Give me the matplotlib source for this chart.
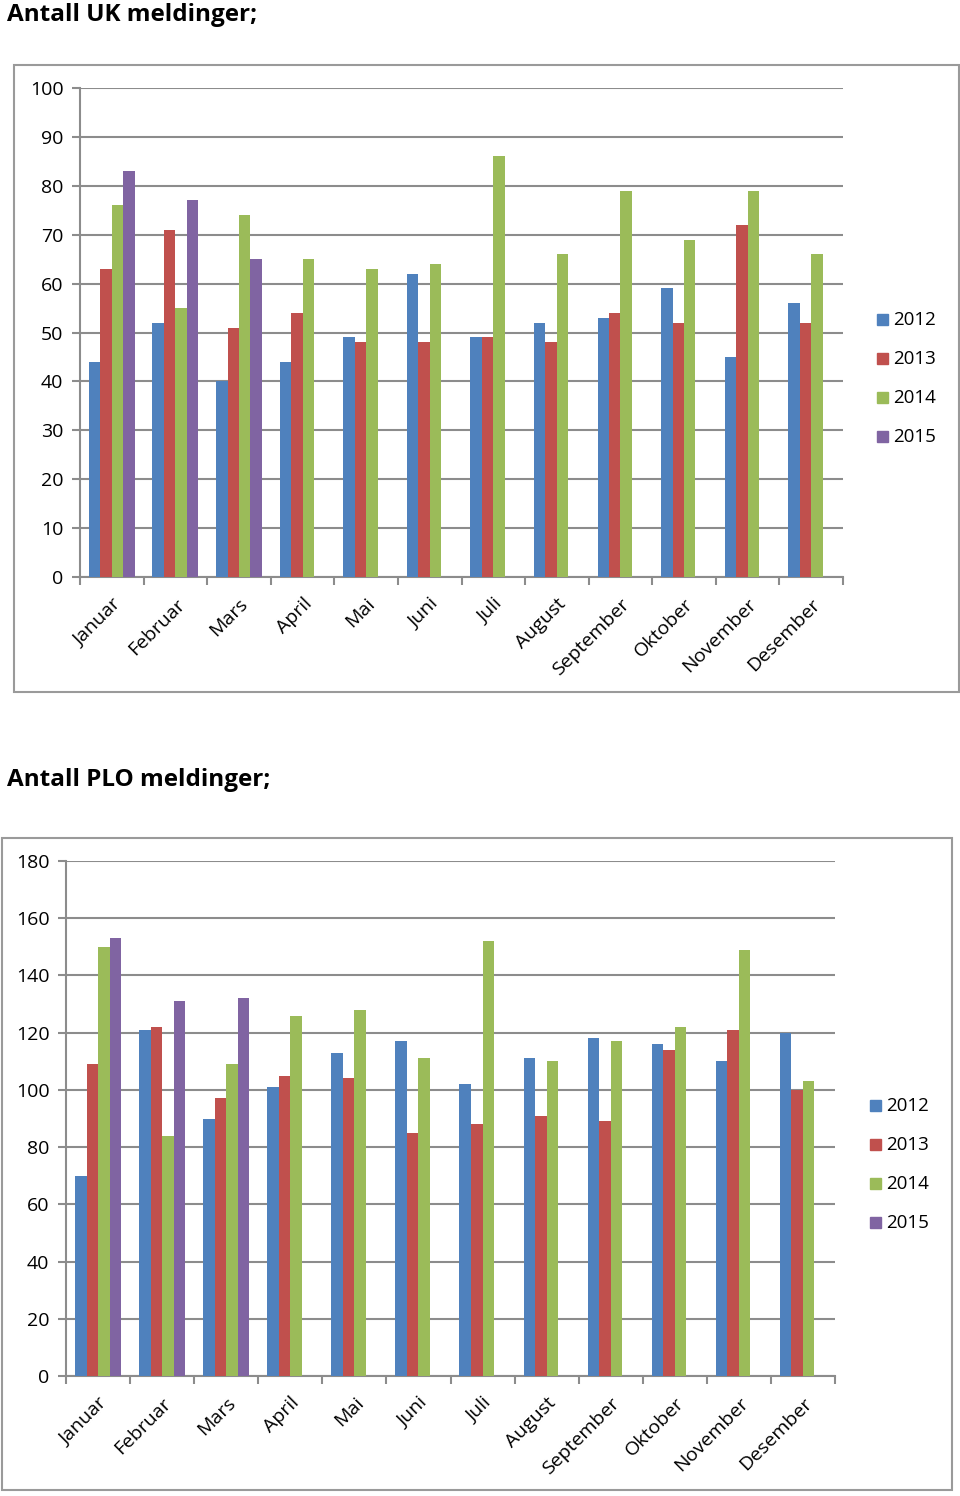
import matplotlib
matplotlib.use("Agg")
import matplotlib.pyplot as plt
from matplotlib.patches import Rectangle
import numpy as np

months = ["Januar", "Februar", "Mars", "April", "Mai", "Juni", "Juli",
          "August", "September", "Oktober", "November", "Desember"]
years = ["2012", "2013", "2014", "2015"]

uk_2012 = [44, 52, 40, 44, 49, 62, 49, 52, 53, 59, 45, 56]
uk_2013 = [63, 71, 51, 54, 48, 48, 49, 48, 54, 52, 72, 52]
uk_2014 = [76, 55, 74, 65, 63, 64, 86, 66, 79, 69, 79, 66]
uk_2015 = [83, 77, 65]

plo_2012 = [70, 121, 90, 101, 113, 117, 102, 111, 118, 116, 110, 120]
plo_2013 = [109, 122, 97, 105, 104, 85, 88, 91, 89, 114, 121, 100]
plo_2014 = [150, 84, 109, 126, 128, 111, 152, 110, 117, 122, 149, 103]
plo_2015 = [153, 131, 132]

uk_titles = "Antall UK meldinger;"
plo_titles = "Antall PLO meldinger;"

colors = ["#4F81BD", "#C0504D", "#9BBB59", "#8064A2"]
grid_c = "#8C8C8C"
FONT = "Open Sans"
plt.rcParams['font.family'] = [FONT, 'DejaVu Sans']

W, H = 960, 1496
fig = plt.figure(figsize=(W / 100, H / 100), dpi=100)


def fx(px):
    return px / W


def fy(py):
    return 1 - py / H


def draw(ax_box, frame_box, title, title_y, series, ymax, ystep, legend_x, legend_y0):
    x0, y0, x1, y1 = frame_box
    fig.patches.append(Rectangle((fx(x0), fy(y1)), fx(x1 - x0), (y1 - y0) / H,
                                 transform=fig.transFigure, fill=False,
                                 edgecolor="#9A9A9A", lw=1.5))
    fig.text(fx(7), fy(title_y), title, fontsize=17.5, fontweight="bold",
             ha="left", va="center", color="black")
    l, t, r, b = ax_box
    ax = fig.add_axes([fx(l), fy(b), fx(r - l), (b - t) / H])
    n = len(months)
    x = np.arange(n)
    bw = 0.18
    for i, s in enumerate(series):
        xs = x[:len(s)] + (i - 1.5) * bw
        ax.bar(xs, s, width=bw, color=colors[i], label=years[i], zorder=3)
    ax.set_xlim(-0.5, n - 0.5)
    ax.set_ylim(0, ymax)
    ax.set_yticks(np.arange(0, ymax + 1, ystep))
    ax.yaxis.grid(True, color=grid_c, lw=1.5, zorder=0)
    ax.set_axisbelow(True)
    for sp in ["top", "right"]:
        ax.spines[sp].set_visible(False)
    for sp in ["left", "bottom"]:
        ax.spines[sp].set_color(grid_c)
        ax.spines[sp].set_linewidth(1.5)
    ax.set_xticks(np.arange(-0.5, n, 1.0))
    ax.set_xticklabels([])
    ax.set_xticks(x, minor=True)
    ax.set_xticklabels(months, minor=True, rotation=45, ha="right", va="top",
                       rotation_mode="anchor", fontsize=14)
    ax.tick_params(axis="x", which="major", direction="out", length=6,
                   color=grid_c, width=1.5)
    ax.tick_params(axis="x", which="minor", length=0, pad=13)
    ax.tick_params(axis="y", direction="out", length=6, color=grid_c, width=1.5,
                   labelsize=14, pad=6)
    for i, yr in enumerate(years):
        yy = legend_y0 + i * 39
        fig.patches.append(Rectangle((fx(legend_x), fy(yy + 5)), fx(11), 11 / H,
                                     transform=fig.transFigure, color=colors[i]))
        fig.text(fx(legend_x + 16), fy(yy), yr, fontsize=13.5, ha="left",
                 va="center", color="black")
    return ax


draw((80, 88, 843, 577), (14, 65, 959, 692), uk_titles, 15,
     [uk_2012, uk_2013, uk_2014, uk_2015], 100, 10, 877, 320)
draw((66, 861, 835, 1376), (2, 838, 952, 1490), plo_titles, 780,
     [plo_2012, plo_2013, plo_2014, plo_2015], 180, 20, 870, 1106)

fig.savefig("out.png", dpi=100, facecolor="white")
